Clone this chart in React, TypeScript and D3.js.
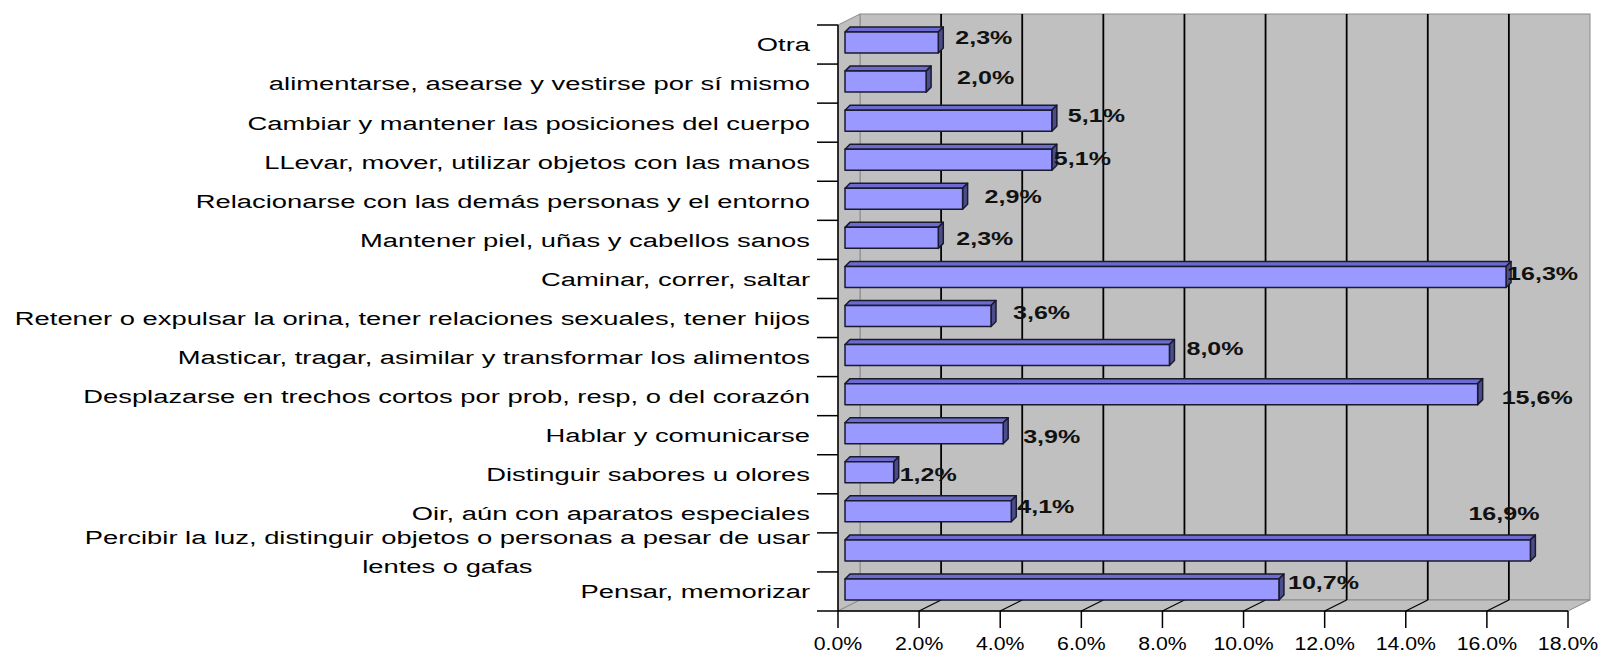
import { useLayoutEffect, useRef, useState } from "react";
import { scaleBand, scaleLinear, range } from "d3";

// categories top to bottom, as drawn
const categories = [
  "Otra",
  "alimentarse, asearse y vestirse por sí mismo",
  "Cambiar y mantener las posiciones del cuerpo",
  "LLevar, mover, utilizar objetos con las manos",
  "Relacionarse con las demás personas y el entorno",
  "Mantener piel, uñas y cabellos sanos",
  "Caminar, correr, saltar",
  "Retener o expulsar la orina, tener relaciones sexuales, tener hijos",
  "Masticar, tragar, asimilar y transformar los alimentos",
  "Desplazarse en trechos cortos por prob, resp, o del corazón",
  "Hablar y comunicarse",
  "Distinguir sabores u olores",
  "Oir, aún con aparatos especiales",
  "Percibir la luz, distinguir objetos o personas a pesar de usar\nlentes o gafas",
  "Pensar, memorizar",
];

const values = [2.3, 2.0, 5.1, 5.1, 2.9, 2.3, 16.3, 3.6, 8.0, 15.6, 3.9, 1.2, 4.1, 16.9, 10.7];

const xTicks = [0, 2, 4, 6, 8, 10, 12, 14, 16, 18];

// hand-placed data labels in the original: [dx from bar end, dy from bar centre]
const labelNudge = [
  [17, -5], [31, -4], [16, -6], [2, -2], [22, -3], [18, 0], [1, -4], [22, -4],
  [17, -7], [24, 3], [20, 3], [6, 2], [6, -5], [-62, -37], [9, -7],
];

const width = 1604;
const height = 655;
const front = { left: 838, top: 25, bottom: 611 };
const depth = { dx: 22, dy: -11 };
const bar = { dx: 7, h: 21, shift: -2, ddx: 5, ddy: -5 };
const font = "'Liberation Sans', Arial, sans-serif";

const fmt = (v) => v.toFixed(1).replace(".", ",") + "%";

const App = () => {
  const lineRef = useRef(null);
  const [lineW, setLineW] = useState(0);

  useLayoutEffect(() => {
    if (lineRef.current) setLineW(lineRef.current.getComputedTextLength());
  }, []);

  const x = scaleLinear().domain([0, 18]).range([0, 730]);
  const y = scaleBand().domain(categories).range([front.top, front.bottom]);

  const fx = (v) => front.left + x(v);
  const bx = (v) => front.left + depth.dx + x(v);
  const backTop = front.top + depth.dy;
  const backBottom = front.bottom + depth.dy;

  const labelX = 810;
  const catScale = 1.44;

  return (
    <svg width={width} height={height} style={{ position: "absolute", left: 0, top: 0, background: "#fff" }}>
      {/* walls */}
      <rect x={bx(0)} y={backTop} width={x(18)} height={backBottom - backTop} fill="#c0c0c0" stroke="#8a8a8a" />
      <polygon
        points={`${fx(0)},${front.top} ${bx(0)},${backTop} ${bx(0)},${backBottom} ${fx(0)},${front.bottom}`}
        fill="#c0c0c0"
        stroke="#8a8a8a"
      />
      <polygon
        points={`${fx(0)},${front.bottom} ${bx(0)},${backBottom} ${bx(18)},${backBottom} ${fx(18)},${front.bottom}`}
        fill="#c0c0c0"
        stroke="#8a8a8a"
      />
      {/* grid */}
      {xTicks.slice(1, -1).map((t) => (
        <g key={t}>
          <line x1={bx(t)} x2={bx(t)} y1={backTop} y2={backBottom} stroke="#000" strokeWidth={1.8} />
          <line x1={fx(t)} y1={front.bottom} x2={bx(t)} y2={backBottom} stroke="#000" strokeWidth={1.2} />
        </g>
      ))}

      {/* bars */}
      {categories.map((c, i) => {
        const cy = y(c) + y.bandwidth() / 2 + bar.shift;
        const x0 = fx(0) + bar.dx;
        const x1 = x0 + x(values[i]);
        const t = cy - bar.h / 2;
        const b = cy + bar.h / 2;
        return (
          <g key={c} stroke="#1a1a2e" strokeWidth={1.5} strokeLinejoin="round">
            <polygon
              points={`${x0},${t} ${x0 + bar.ddx},${t + bar.ddy} ${x1 + bar.ddx},${t + bar.ddy} ${x1},${t}`}
              fill="#6b6bd0"
            />
            <polygon
              points={`${x1},${t} ${x1 + bar.ddx},${t + bar.ddy} ${x1 + bar.ddx},${b + bar.ddy} ${x1},${b}`}
              fill="#4c4c8c"
            />
            <rect x={x0} y={t} width={x1 - x0} height={bar.h} fill="#9999ff" />
          </g>
        );
      })}

      {/* axes */}
      <line x1={fx(0)} x2={fx(0)} y1={front.top} y2={front.bottom} stroke="#000" strokeWidth={1.5} />
      <line x1={fx(0)} x2={fx(18)} y1={front.bottom} y2={front.bottom} stroke="#000" strokeWidth={1.5} />
      {range(categories.length + 1).map((i) => {
        const yy = front.top + i * y.step();
        return <line key={i} x1={fx(0) - 21} x2={fx(0)} y1={yy} y2={yy} stroke="#000" strokeWidth={1.5} />;
      })}
      {xTicks.map((t) => (
        <g key={t} transform={`translate(${fx(t)},${front.bottom})`}>
          <line y2={17} stroke="#000" strokeWidth={1.5} />
          <g transform="translate(0,38.5) scale(1.12,1)">
            <text textAnchor="middle" fontFamily={font} fontSize={19} fill="#000">
              {t.toFixed(1) + "%"}
            </text>
          </g>
        </g>
      ))}

      {/* category labels */}
      {categories.map((c, i) => {
        const cy = y(c) + y.bandwidth() / 2;
        const lines = c.split("\n");
        if (lines.length === 1) {
          return (
            <g key={c} transform={`translate(${labelX},${cy}) scale(${catScale},1)`}>
              <text textAnchor="end" dy="0.36em" fontFamily={font} fontSize={19} fill="#000">
                {c}
              </text>
            </g>
          );
        }
        return (
          <g key={c} transform={`translate(${labelX},${cy}) scale(${catScale},1)`}>
            <text ref={lineRef} textAnchor="end" y={-15} dy="0.36em" fontFamily={font} fontSize={19} fill="#000">
              {lines[0]}
            </text>
            <text textAnchor="middle" x={-lineW / 2} y={14} dy="0.36em" fontFamily={font} fontSize={19} fill="#000">
              {lines[1]}
            </text>
          </g>
        );
      })}

      {/* value labels */}
      {categories.map((c, i) => {
        const cy = y(c) + y.bandwidth() / 2 + bar.shift;
        const x1 = fx(0) + bar.dx + x(values[i]);
        const [ndx, ndy] = labelNudge[i];
        return (
          <g key={c} transform={`translate(${x1 + ndx},${cy + ndy}) scale(1.32,1)`}>
            <text dy="0.36em" fontFamily={font} fontSize={19} fontWeight="bold" fill="#111">
              {fmt(values[i])}
            </text>
          </g>
        );
      })}
    </svg>
  );
};

export default App;
